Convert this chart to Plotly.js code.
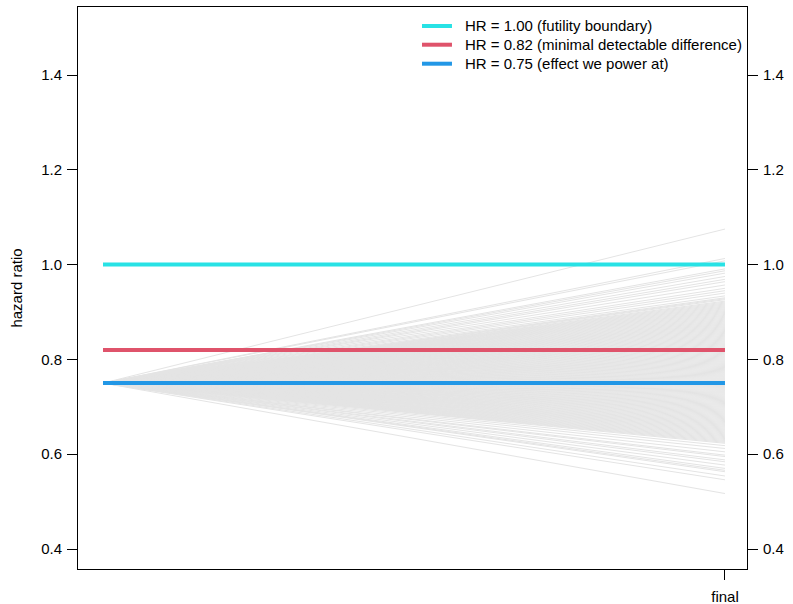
<!DOCTYPE html>
<html>
<head>
<meta charset="utf-8">
<script src="https://cdn.plot.ly/plotly-3.0.1.min.js"></script>
<style>html,body{margin:0;padding:0;background:#fff}</style>
</head>
<body>
<div id="chart" style="width:793px;height:604px"></div>
<script>
// x positions: interim start and final analysis
const xPositions = [1, 2];
const xTickLabels = ["final"];
const startHR = 0.75;

// final simulated hazard ratio estimates
const upperTail = [1.075, 1.013, 1.008, 0.991, 0.987, 0.982, 0.975, 0.969, 0.964, 0.957, 0.950, 0.945, 0.940, 0.934];
const bulkFinal = [
  0.930, 0.928, 0.926, 0.923, 0.921, 0.919, 0.917, 0.915, 0.913, 0.911, 0.909, 0.907, 0.905, 0.903, 0.901,
  0.899, 0.897, 0.895, 0.893, 0.891, 0.889, 0.887, 0.885, 0.883, 0.881, 0.879, 0.877, 0.875, 0.873, 0.871,
  0.869, 0.867, 0.865, 0.863, 0.861, 0.859, 0.857, 0.855, 0.853, 0.851, 0.849, 0.847, 0.845, 0.843, 0.841,
  0.839, 0.837, 0.835, 0.833, 0.831, 0.829, 0.827, 0.825, 0.823, 0.821, 0.819, 0.817, 0.815, 0.813, 0.811,
  0.809, 0.807, 0.805, 0.803, 0.801, 0.799, 0.797, 0.795, 0.793, 0.791, 0.789, 0.787, 0.785, 0.783, 0.781,
  0.779, 0.777, 0.775, 0.773, 0.771, 0.769, 0.767, 0.765, 0.763, 0.761, 0.759, 0.757, 0.755, 0.753, 0.751,
  0.749, 0.747, 0.745, 0.743, 0.741, 0.739, 0.737, 0.735, 0.733, 0.731, 0.729, 0.727, 0.725, 0.723, 0.721,
  0.719, 0.717, 0.715, 0.713, 0.711, 0.709, 0.707, 0.705, 0.703, 0.701, 0.699, 0.697, 0.695, 0.693, 0.691,
  0.689, 0.687, 0.685, 0.683, 0.681, 0.679, 0.677, 0.675, 0.673, 0.671, 0.669, 0.667, 0.665, 0.663, 0.661,
  0.659, 0.657, 0.655, 0.653, 0.651, 0.649, 0.647, 0.645, 0.643, 0.641, 0.639, 0.637, 0.635, 0.633, 0.631,
  0.629, 0.627, 0.625
];
const lowerTail = [0.623, 0.618, 0.612, 0.605, 0.598, 0.595, 0.588, 0.584, 0.577, 0.570, 0.566, 0.563, 0.554, 0.546, 0.517];

// reference hazard ratios
const refLabels = ["HR = 1.00 (futility boundary)", "HR = 0.82 (minimal detectable difference)", "HR = 0.75 (effect we power at)"];
const refValues = [1.00, 0.82, 0.75];
const refColors = ["#28E2E5", "#DF536B", "#2297E6"];

const yTicks = [0.4, 0.6, 0.8, 1.0, 1.2, 1.4];

const finals = upperTail.concat(bulkFinal, lowerTail);
const gx = [], gy = [];
finals.forEach(v => { gx.push(xPositions[0], xPositions[1], null); gy.push(startHR, v, null); });

const traces = [{
  x: gx, y: gy, type: "scatter", mode: "lines",
  line: {color: "#e4e4e4", width: 1}, showlegend: false, hoverinfo: "skip"
}];
refValues.forEach((v, i) => {
  traces.push({
    x: xPositions, y: [v, v], type: "scatter", mode: "lines",
    name: refLabels[i], line: {color: refColors[i], width: 4}, showlegend: false
  });
});
// invisible trace for right axis
traces.push({x: xPositions, y: [startHR, startHR], yaxis: "y2", mode: "lines",
  line: {width: 0, color: "rgba(0,0,0,0)"}, showlegend: false, hoverinfo: "skip"});

const font = {family: "Liberation Sans, Arial, sans-serif", size: 15, color: "#000"};
const yr = [0.3578, 1.5435];

// key (legend) drawn in the panel's top-right corner
const keyRows = [0.9662, 0.9329, 0.8991];
const shapes = [], annotations = [];
refLabels.forEach((lab, i) => {
  shapes.push({type: "line", xref: "paper", yref: "paper", x0: 0.5142, x1: 0.5590,
    y0: keyRows[i], y1: keyRows[i], line: {color: refColors[i], width: 4}});
  annotations.push({xref: "paper", yref: "paper", x: 0.5755, y: keyRows[i],
    xanchor: "left", yanchor: "middle", text: lab, showarrow: false, font: font});
});

const layout = {
  width: 793, height: 604,
  margin: {l: 78, r: 46, t: 7, b: 35},
  paper_bgcolor: "#fff", plot_bgcolor: "#fff",
  font: font,
  shapes: shapes, annotations: annotations,
  xaxis: {
    range: [0.9598, 2.0354], tickvals: [2], ticktext: xTickLabels,
    ticks: "outside", ticklen: 10, tickcolor: "#000", tickwidth: 1,
    showline: true, linecolor: "#000", linewidth: 1, mirror: true,
    showgrid: false, zeroline: false, ticklabelstandoff: 4
  },
  yaxis: {
    range: yr, tickvals: yTicks, ticktext: yTicks.map(v => v.toFixed(1)),
    ticks: "outside", ticklen: 10, tickcolor: "#000", tickwidth: 1,
    showline: true, linecolor: "#000", linewidth: 1, mirror: true,
    showgrid: false, zeroline: false, ticklabelstandoff: 2,
    title: {text: "hazard ratio", font: {family: font.family, size: 15}, standoff: 14}
  },
  yaxis2: {
    overlaying: "y", side: "right", range: yr, tickvals: yTicks,
    ticktext: yTicks.map(v => v.toFixed(1)),
    ticks: "outside", ticklen: 10, tickcolor: "#000", tickwidth: 1,
    showline: false, showgrid: false, zeroline: false, ticklabelstandoff: 2
  },
  showlegend: false
};
Plotly.newPlot("chart", traces, layout, {staticPlot: true});
</script>
</body>
</html>
